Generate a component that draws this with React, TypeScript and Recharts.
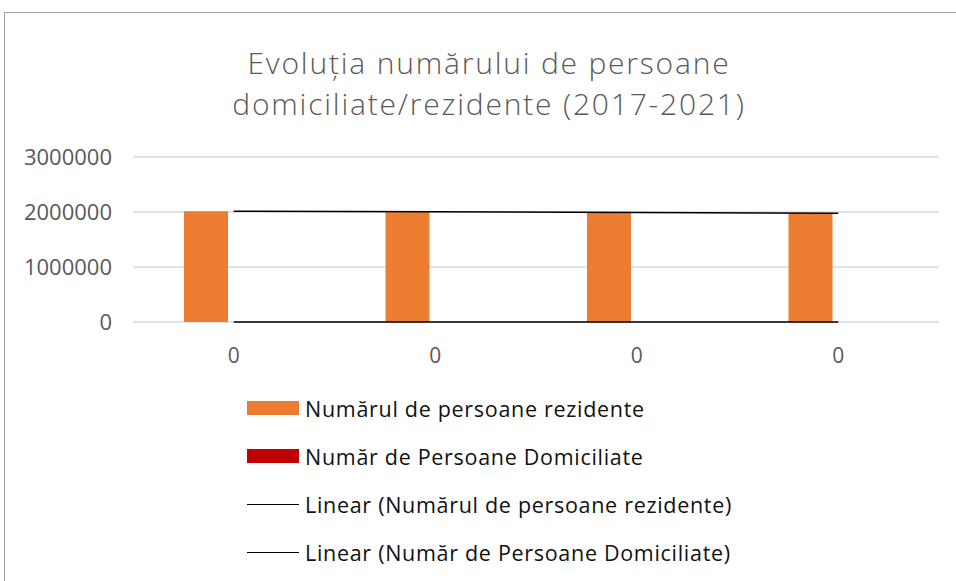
import { ComposedChart, Bar, Line, XAxis, YAxis, CartesianGrid } from "recharts";

// Category labels as shown on the original (all "0")
const categories = ["0", "0", "0", "0"];
// Numărul de persoane rezidente
const residentValues = [2015000, 2002000, 1992000, 1976000];
// Număr de Persoane Domiciliate
const domiciledValues = [0, 0, 0, 0];
const yTicks = [0, 1000000, 2000000, 3000000];

const ORANGE = "#ED7D31";
const RED = "#C00000";
const TEXT = "#595959";
const FONT = '"Open Sans", sans-serif';

// Least squares linear trendline, same as Excel's "Linear" trendline
function linearTrend(values: number[]): number[] {
  const n = values.length;
  const xs = values.map((_, i) => i + 1);
  const mx = xs.reduce((s, x) => s + x, 0) / n;
  const my = values.reduce((s, y) => s + y, 0) / n;
  let num = 0;
  let den = 0;
  xs.forEach((x, i) => {
    num += (x - mx) * (values[i] - my);
    den += (x - mx) * (x - mx);
  });
  const slope = den === 0 ? 0 : num / den;
  return xs.map((x) => my + slope * (x - mx));
}

const residentTrend = linearTrend(residentValues);
const domiciledTrend = linearTrend(domiciledValues);

const legendItems = [
  { label: "Numărul de persoane rezidente", color: ORANGE, kind: "bar" },
  { label: "Număr de Persoane Domiciliate", color: RED, kind: "bar" },
  { label: "Linear (Numărul de persoane rezidente)", color: "#000", kind: "line" },
  { label: "Linear (Număr de Persoane Domiciliate)", color: "#000", kind: "line" },
];

export default function App() {
  const data = categories.map((cat, i) => ({
    cat,
    resident: residentValues[i],
    domiciled: domiciledValues[i],
    residentTrend: residentTrend[i],
    domiciledTrend: domiciledTrend[i],
  }));

  return (
    <div
      style={{
        position: "fixed",
        left: 0,
        top: 0,
        width: 956,
        height: 581,
        background: "#fff",
        overflow: "hidden",
        fontFamily: FONT,
      }}
    >
      {/* Title */}
      <div
        style={{
          position: "absolute",
          left: 0,
          top: 42,
          width: 978,
          textAlign: "center",
          fontSize: 30,
          fontWeight: 300,
          letterSpacing: 1.8,
          lineHeight: "41px",
          color: TEXT,
        }}
      >
        <div>Evoluția numărului de persoane</div>
        <div>domiciliate/rezidente (2017-2021)</div>
      </div>

      <div style={{ position: "absolute", left: 0, top: 0 }}>
        <ComposedChart
          width={956}
          height={581}
          data={data}
          margin={{ top: 157, right: 17, bottom: 0, left: 0 }}
          barSize={44}
          barGap={12}
        >
          <CartesianGrid vertical={false} stroke="#d9d9d9" strokeWidth={1.5} />
          <XAxis
            dataKey="cat"
            axisLine={false}
            tickLine={false}
            tickSize={0}
            tickMargin={26}
            height={259}
            tick={{ fill: TEXT, fontSize: 21, fontFamily: FONT }}
          />
          <YAxis
            width={133}
            domain={[0, 3000000]}
            ticks={yTicks}
            axisLine={false}
            tickLine={false}
            tickSize={0}
            tickMargin={21}
            tick={{ fill: TEXT, fontSize: 22, fontFamily: FONT }}
          />
          <Bar dataKey="resident" fill={ORANGE} isAnimationActive={false} />
          <Bar dataKey="domiciled" fill={RED} isAnimationActive={false} />
          <Line
            dataKey="residentTrend"
            type="linear"
            stroke="#000"
            strokeWidth={1.5}
            dot={false}
            activeDot={false}
            isAnimationActive={false}
          />
          <Line
            dataKey="domiciledTrend"
            type="linear"
            stroke="#000"
            strokeWidth={1.5}
            dot={false}
            activeDot={false}
            isAnimationActive={false}
          />
        </ComposedChart>
      </div>

      {/* chart frame, drawn on top */}
      <div
        style={{
          position: "absolute",
          left: 4,
          top: 12,
          width: 1000,
          height: 1000,
          borderLeft: "1px solid #a0a0a0",
          borderTop: "1px solid #a0a0a0",
          zIndex: 5,
          pointerEvents: "none",
        }}
      />

      {/* Legend */}
      <div style={{ position: "absolute", left: 247, top: 384 }}>
        {legendItems.map((item) => (
          <div
            key={item.label}
            style={{ display: "flex", alignItems: "center", height: 48 }}
          >
            <span
              style={{
                width: 52,
                height: item.kind === "bar" ? 14 : 1,
                background: item.color,
                display: "inline-block",
              }}
            />
            <span
              style={{ marginLeft: 6, fontSize: 21.5, letterSpacing: 0.7, color: "#111" }}
            >
              {item.label}
            </span>
          </div>
        ))}
      </div>
    </div>
  );
}
